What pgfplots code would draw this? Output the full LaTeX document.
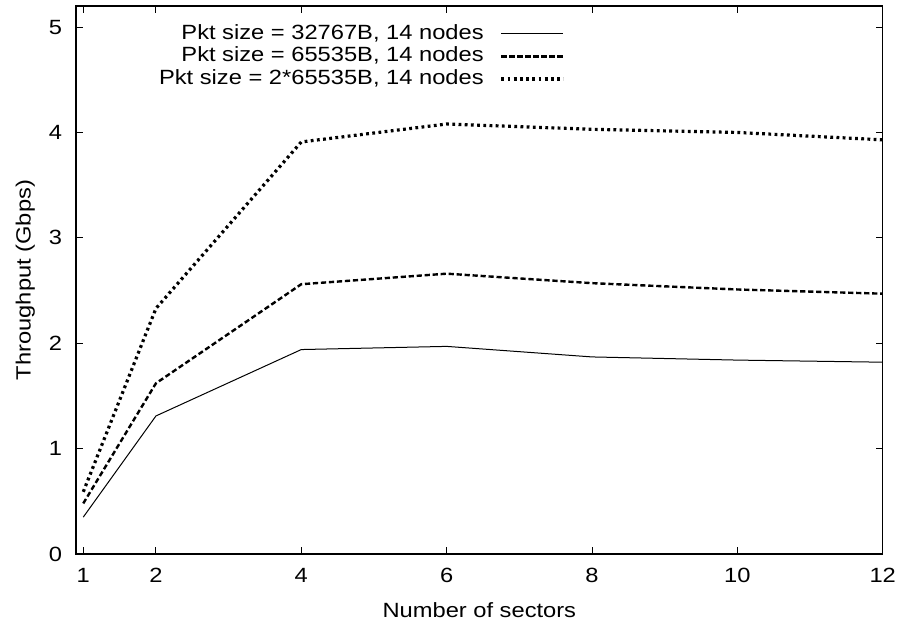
\documentclass[border=0pt]{standalone}
\usepackage{fontspec}
\setmainfont{Liberation Sans}[FakeStretch=1.15]
\usepackage{pgfplots}
\pgfplotsset{compat=1.18}
\begin{document}
\begin{tikzpicture}
\path[use as bounding box] (-38pt,-36pt) rectangle (411pt,277pt);
\begin{axis}[
  scale only axis,
  width=403.35pt, height=274pt,
  anchor=south west, at={(0,0)},
  xmin=0.9, xmax=12, ymin=0, ymax=5.2,
  xtick={1,2,4,6,8,10,12},
  ytick={0,1,2,3,4,5},
  tick align=inside,
  major tick length=3.5pt,
  every tick/.style={black, line width=0.5pt},
  axis line style={line width=0.6pt},
  /pgf/number format/assume math mode=true,
  font=\fontsize{10.3}{12}\selectfont,
  xticklabel style={yshift=-3.5pt},
  yticklabel style={xshift=-3.5pt},
  xlabel={Number of sectors},
  ylabel={Throughput (Gbps)},
  every axis x label/.style={at={(axis description cs:0.5,-0.102)}, anchor=center},
  every axis y label/.style={at={(axis description cs:-0.063,0.5)}, rotate=90, anchor=center},
  legend plot pos=right,
  legend cell align=right,
  legend image code/.code={\draw[#1] (0pt,0pt) -- (31pt,0pt);},
  legend style={draw=none, fill=none, at={(axis description cs:0.614,0.978)}, anchor=north east,
    nodes={text height=7.5pt, text depth=2pt, inner ysep=0.9pt, inner xsep=3pt},
    column sep=5pt},
]
\addplot[black, line width=0.5pt] coordinates {
  (1,0.35) (2,1.31) (4,1.94) (6,1.97) (8,1.87) (10,1.84) (12,1.82)};
\addlegendentry{Pkt size = 32767B, 14 nodes}
\addplot[black, line width=1.2pt, dash pattern=on 2.6pt off 1.4pt] coordinates {
  (1,0.48) (2,1.62) (4,2.56) (6,2.66) (8,2.57) (10,2.51) (12,2.47)};
\addlegendentry{Pkt size = 65535B, 14 nodes}
\addplot[black, line width=1.6pt, dash pattern=on 1.4pt off 1.7pt] coordinates {
  (1,0.59) (2,2.33) (4,3.91) (6,4.08) (8,4.03) (10,4.00) (12,3.93)};
\addlegendentry{Pkt size = 2*65535B, 14 nodes}
\end{axis}
\end{tikzpicture}
\end{document}
